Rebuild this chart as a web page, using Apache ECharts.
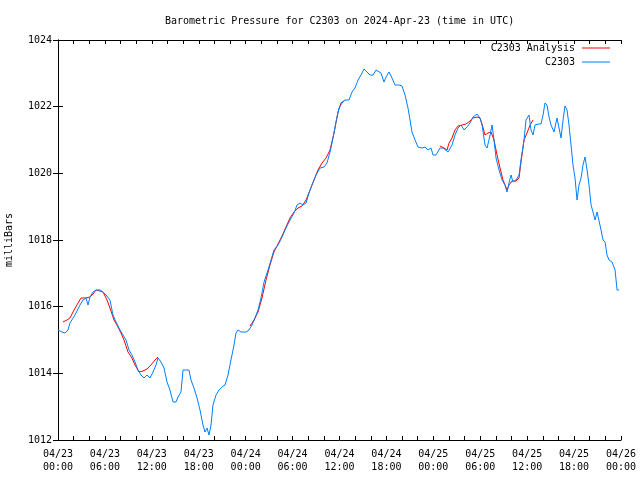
<!DOCTYPE html>
<html>
<head>
<meta charset="utf-8">
<script src="https://cdn.jsdelivr.net/npm/echarts@6/dist/echarts.min.js"></script>
<style>html,body{margin:0;padding:0;background:#fff}#c{width:640px;height:480px}</style>
</head>
<body>
<div id="c"></div>
<script>
// hours since 2024-04-23 00:00 UTC
const stationT = [0,0.51,0.90,1.28,1.53,2.17,2.81,3.20,3.58,3.84,4.09,4.48,4.86,5.37,5.76,6.14,6.65,7.03,7.42,7.93,8.31,8.70,9.08,9.46,9.85,10.23,10.62,11.00,11.38,11.77,12.15,12.53,12.79,13.17,13.56,13.94,14.32,14.71,15.09,15.35,15.73,15.99,16.37,16.75,17.01,17.39,17.78,18.16,18.54,18.80,19.06,19.31,19.57,19.82,20.21,20.59,20.97,21.36,21.74,22.12,22.51,22.76,23.02,23.40,24.04,24.43,24.81,25.19,25.58,25.96,26.35,26.86,27.24,27.62,28.14,28.65,29.16,29.67,30.18,30.57,30.95,31.33,31.72,32.10,32.48,33.00,33.51,34.02,34.40,34.79,35.17,35.55,35.94,36.32,36.71,37.22,37.60,37.98,38.37,38.75,39.14,39.52,39.90,40.29,40.67,40.92,41.31,41.69,41.95,42.33,42.72,43.10,43.61,43.99,44.38,44.76,45.02,45.27,45.66,46.04,46.55,46.94,47.32,47.70,47.96,48.34,48.86,49.24,49.49,49.88,50.39,50.77,51.16,51.54,51.93,52.31,52.69,53.08,53.59,53.97,54.23,54.61,54.87,55.26,55.51,55.76,56.02,56.40,56.79,57.17,57.42,57.68,57.94,58.19,58.58,58.96,59.21,59.60,59.85,60.24,60.49,60.75,61.00,61.39,61.77,62.03,62.28,62.54,62.80,63.05,63.43,63.82,64.07,64.33,64.59,64.84,65.10,65.35,65.61,65.86,66.12,66.38,66.63,66.89,67.14,67.40,67.66,67.91,68.17,68.42,68.68,68.94,69.19,69.45,69.70,69.96,70.21,70.47,70.85,71.24,71.50,71.75];
const stationP = [1015.30,1015.24,1015.21,1015.30,1015.51,1015.75,1016.05,1016.20,1016.26,1016.05,1016.29,1016.44,1016.50,1016.50,1016.44,1016.35,1016.20,1015.75,1015.54,1015.30,1015.15,1015.00,1014.70,1014.55,1014.34,1014.10,1013.95,1013.86,1013.95,1013.86,1014.04,1014.25,1014.46,1014.34,1014.16,1013.74,1013.50,1013.14,1013.14,1013.29,1013.44,1014.10,1014.10,1014.10,1013.80,1013.56,1013.26,1012.90,1012.45,1012.24,1012.36,1012.15,1012.45,1013.05,1013.35,1013.50,1013.59,1013.65,1013.95,1014.40,1014.85,1015.21,1015.30,1015.24,1015.24,1015.30,1015.45,1015.66,1015.90,1016.26,1016.74,1017.10,1017.40,1017.70,1017.85,1018.09,1018.36,1018.60,1018.81,1019.05,1019.11,1019.05,1019.11,1019.41,1019.65,1019.95,1020.16,1020.19,1020.31,1020.64,1021.06,1021.54,1021.96,1022.11,1022.20,1022.20,1022.44,1022.56,1022.80,1022.95,1023.13,1023.04,1022.95,1022.95,1023.10,1023.16,1023.01,1022.74,1022.89,1023.04,1022.86,1022.65,1022.65,1022.62,1022.35,1021.96,1021.60,1021.24,1021.00,1020.79,1020.76,1020.79,1020.70,1020.76,1020.55,1020.55,1020.76,1020.76,1020.76,1020.64,1020.85,1021.15,1021.36,1021.45,1021.30,1021.39,1021.51,1021.69,1021.78,1021.66,1021.45,1020.85,1020.76,1021.15,1021.45,1021.00,1020.46,1020.10,1019.80,1019.65,1019.44,1019.71,1019.95,1019.74,1019.80,1019.95,1020.40,1021.00,1021.60,1021.75,1021.30,1021.15,1021.45,1021.48,1021.48,1021.75,1022.11,1022.05,1021.69,1021.45,1021.24,1021.66,1021.66,1021.06,1021.60,1022.02,1021.90,1021.45,1020.85,1020.25,1019.86,1019.20,1019.65,1019.86,1020.25,1020.49,1020.10,1019.65,1019.05,1018.84,1018.60,1018.84,1018.90,1018.30,1018.00,1017.94,1017.55,1017.40,1017.34,1017.10,1016.50,1016.50];

const analysisT1 = [0.64,1.15,1.53,2.05,2.56,2.94,3.58,4.09,4.48,4.86,5.37,5.76,6.27,6.78,7.16,7.54,8.06,8.44,8.95,9.46,9.85,10.36,10.87,11.38,11.77,12.41,12.79];
const analysisP1 = [1015.54,1015.60,1015.66,1015.90,1016.11,1016.26,1016.26,1016.29,1016.38,1016.50,1016.47,1016.44,1016.20,1015.87,1015.60,1015.45,1015.21,1015.00,1014.64,1014.46,1014.25,1014.04,1014.07,1014.13,1014.22,1014.40,1014.49];
const analysisT2 = [24.56,25.07,25.58,26.09,26.60,27.11,27.62,28.14,28.65,29.16,29.67,30.18,30.69,31.21,31.72,32.23,32.74,33.25,33.76,34.28,34.79,35.30,35.81,36.19,36.71];
const analysisP2 = [1015.42,1015.60,1015.84,1016.26,1016.80,1017.25,1017.64,1017.88,1018.12,1018.39,1018.66,1018.84,1018.96,1019.02,1019.20,1019.50,1019.80,1020.10,1020.31,1020.46,1020.70,1021.21,1021.84,1022.11,1022.20];
const analysisT3 = [48.86,49.37,49.75,50.01,50.39,50.77,51.16,51.67,52.18,52.69,53.08,53.59,53.97,54.23,54.61,54.99,55.38,55.76,56.15,56.53,56.91,57.42,57.68,58.06,58.58,58.96,59.21,59.60,59.98,60.37,60.75];
const analysisP3 = [1020.82,1020.76,1020.70,1020.91,1021.06,1021.30,1021.42,1021.45,1021.48,1021.57,1021.66,1021.69,1021.66,1021.48,1021.15,1021.21,1021.24,1021.00,1020.55,1020.16,1019.80,1019.50,1019.65,1019.77,1019.77,1019.86,1020.34,1021.00,1021.21,1021.45,1021.60];

const xTickLabels = ['04/23\n00:00','04/23\n06:00','04/23\n12:00','04/23\n18:00','04/24\n00:00','04/24\n06:00','04/24\n12:00','04/24\n18:00','04/25\n00:00','04/25\n06:00','04/25\n12:00','04/25\n18:00','04/26\n00:00'];
const yTickLabels = ['1012','1014','1016','1018','1020','1022','1024'];

const FONT = 'DejaVu Sans Mono';
const stationData = stationT.map((t, i) => [t, stationP[i]]);
const analysisData = [];
[[analysisT1, analysisP1], [analysisT2, analysisP2], [analysisT3, analysisP3]].forEach((seg, k) => {
  if (k > 0) analysisData.push([seg[0][0] - 0.01, '-']);
  seg[0].forEach((t, i) => analysisData.push([t, seg[1][i]]));
});

const xBase = {
  type: 'value', min: 0, max: 72, interval: 6,
  axisLine: { lineStyle: { color: '#000', width: 1 } },
  axisTick: { inside: true, length: 4, lineStyle: { color: '#000' } },
  minorTick: { show: true, splitNumber: 3, length: 4, lineStyle: { color: '#000' } },
  splitLine: { show: false }
};
const yBase = {
  type: 'value', min: 1012, max: 1024, interval: 2,
  axisLine: { show: true, lineStyle: { color: '#000', width: 1 } },
  axisTick: { show: true, inside: true, length: 5, lineStyle: { color: '#000' } },
  splitLine: { show: false }
};
const legendBase = {
  orient: 'vertical', align: 'right', icon: 'rect', itemWidth: 28, itemHeight: 1, padding: 0,
  textStyle: { fontFamily: FONT, fontSize: 10, color: '#000', padding: [0, 2, 0, 0] }
};

const chart = echarts.init(document.getElementById('c'));
chart.setOption({
  animation: false,
  backgroundColor: '#fff',
  textStyle: { fontFamily: FONT },
  title: {
    text: 'Barometric Pressure for C2303 on 2024-Apr-23 (time in UTC)',
    left: 160, top: 11,
    textStyle: { fontFamily: FONT, fontSize: 10, fontWeight: 'normal', color: '#000' }
  },
  legend: [
    Object.assign({ data: ['C2303 Analysis'], right: 30, top: 43 }, legendBase),
    Object.assign({ data: ['C2303'], right: 30, top: 57 }, legendBase)
  ],
  grid: { left: 58, right: 19, top: 40, bottom: 40, containLabel: false, outerBoundsMode: 'none' },
  xAxis: [
    Object.assign({}, xBase, {
      position: 'bottom',
      axisLabel: { fontFamily: FONT, fontSize: 10, color: '#000', lineHeight: 13, margin: 8,
        formatter: v => xTickLabels[Math.round(v / 6)] }
    }),
    Object.assign({}, xBase, { position: 'top', axisLabel: { show: false } })
  ],
  yAxis: [
    Object.assign({}, yBase, {
      position: 'left',
      name: 'milliBars', nameLocation: 'middle', nameRotate: 90, nameGap: 44,
      nameTextStyle: { fontFamily: FONT, fontSize: 10, color: '#000' },
      axisLabel: { fontFamily: FONT, fontSize: 10, color: '#000', margin: 6,
        formatter: v => yTickLabels[Math.round((v - 1012) / 2)] }
    }),
    Object.assign({}, yBase, { position: 'right', axisLabel: { show: false } })
  ],
  series: [
    { name: 'C2303 Analysis', type: 'line', data: analysisData, showSymbol: false, symbol: 'none',
      connectNulls: false, lineStyle: { color: '#ff0000', width: 1 }, itemStyle: { color: '#ff0000' } },
    { name: 'C2303', type: 'line', data: stationData, showSymbol: false, symbol: 'none',
      lineStyle: { color: '#0080ff', width: 1 }, itemStyle: { color: '#0080ff' } }
  ]
});
</script>
</body>
</html>
